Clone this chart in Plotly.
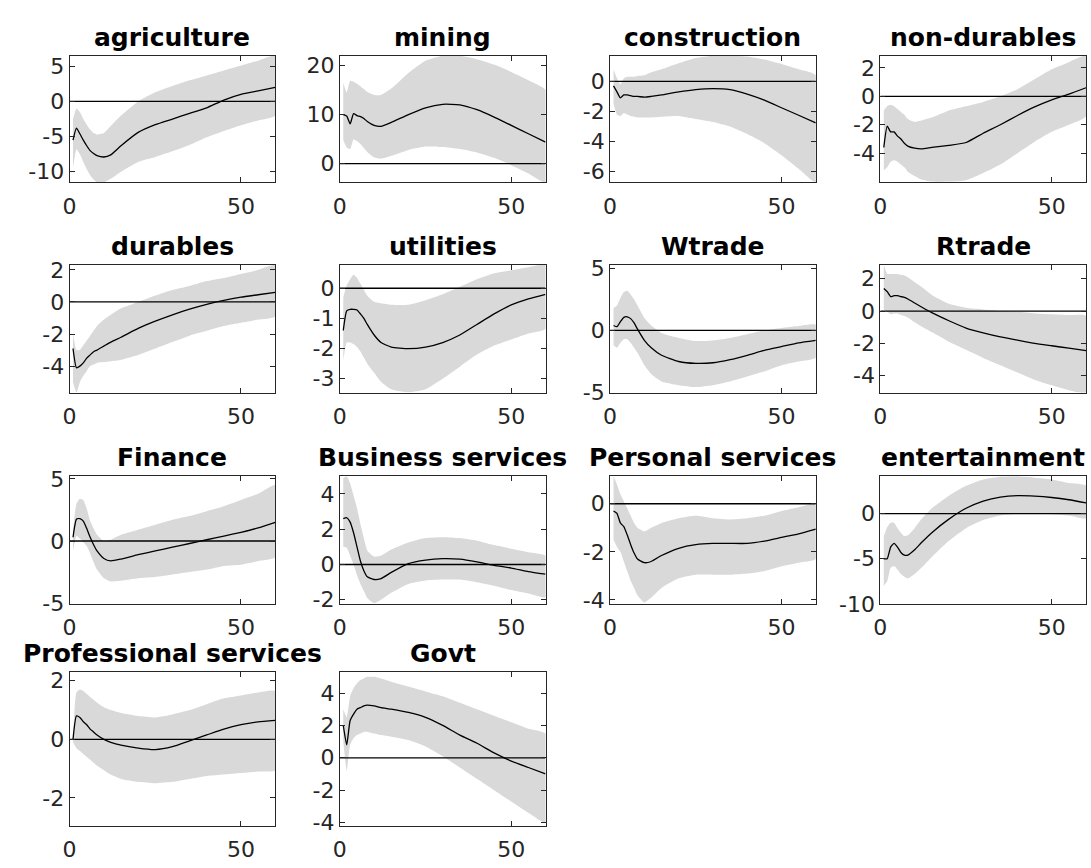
import plotly.graph_objects as go

# Impulse-response horizons (periods after the shock)
horizon = [1, 2, 3, 4, 5, 6, 7, 8, 10, 12, 15, 20, 25, 30, 35, 40, 45, 50, 55, 60]

sectors = ["agriculture", "mining", "construction", "non-durables",
           "durables", "utilities", "Wtrade", "Rtrade",
           "Finance", "Business services", "Personal services", "entertainment",
           "Professional services", "Govt"]

# point responses
agriculture_irf = [-5.5, -3.8, -4.6, -5.5, -6.3, -7.0, -7.4, -7.7, -7.9, -7.6, -6.3, -4.4, -3.3, -2.5, -1.7, -0.9, 0.2, 1.0, 1.5, 2.0]
mining_irf = [10.0, 9.7, 8.1, 10.2, 9.8, 9.6, 9.2, 8.6, 7.8, 7.6, 8.4, 10.0, 11.4, 12.1, 12.0, 11.0, 9.5, 7.8, 6.1, 4.4]
construction_irf = [-0.3, -0.7, -1.1, -0.9, -0.9, -0.95, -1.0, -1.0, -1.05, -1.0, -0.9, -0.7, -0.55, -0.48, -0.55, -0.85, -1.25, -1.75, -2.25, -2.75]
nondurables_irf = [-3.6, -2.1, -2.5, -2.5, -2.8, -3.0, -3.3, -3.5, -3.65, -3.7, -3.6, -3.45, -3.25, -2.6, -2.0, -1.35, -0.75, -0.25, 0.15, 0.6]
durables_irf = [-2.9, -4.1, -4.0, -3.8, -3.5, -3.3, -3.1, -3.0, -2.75, -2.5, -2.2, -1.65, -1.2, -0.8, -0.45, -0.15, 0.1, 0.3, 0.45, 0.6]
utilities_irf = [-1.4, -0.75, -0.7, -0.7, -0.72, -0.85, -1.0, -1.2, -1.55, -1.8, -1.95, -2.0, -1.95, -1.8, -1.55, -1.2, -0.85, -0.55, -0.35, -0.2]
wtrade_irf = [0.4, 0.3, 0.7, 1.05, 1.1, 0.95, 0.6, 0.1, -0.8, -1.4, -2.0, -2.5, -2.65, -2.6, -2.35, -2.0, -1.6, -1.3, -1.0, -0.8]
rtrade_irf = [1.4, 1.2, 0.9, 0.95, 0.95, 0.9, 0.85, 0.75, 0.5, 0.25, -0.1, -0.6, -1.05, -1.35, -1.6, -1.8, -2.0, -2.15, -2.3, -2.45]
finance_irf = [0.3, 1.75, 1.8, 1.6, 1.0, 0.3, -0.3, -0.8, -1.4, -1.6, -1.45, -1.1, -0.8, -0.5, -0.2, 0.1, 0.4, 0.7, 1.05, 1.5]
business_irf = [2.6, 2.65, 2.4, 1.8, 1.0, 0.2, -0.35, -0.7, -0.85, -0.8, -0.45, 0.05, 0.25, 0.33, 0.3, 0.15, -0.05, -0.2, -0.4, -0.55]
personal_irf = [-0.3, -0.4, -0.8, -0.95, -1.3, -1.7, -2.05, -2.3, -2.45, -2.4, -2.15, -1.85, -1.7, -1.65, -1.65, -1.65, -1.55, -1.4, -1.25, -1.05]
entertainment_irf = [-5.0, -5.0, -3.7, -3.3, -3.7, -4.3, -4.6, -4.6, -4.0, -3.2, -2.1, -0.6, 0.6, 1.4, 1.85, 2.0, 1.95, 1.8, 1.55, 1.2]
professional_irf = [0.0, 0.8, 0.75, 0.6, 0.5, 0.35, 0.25, 0.15, 0.0, -0.1, -0.2, -0.3, -0.35, -0.25, -0.05, 0.15, 0.35, 0.5, 0.6, 0.65]
govt_irf = [2.0, 0.8, 2.3, 2.7, 3.0, 3.1, 3.2, 3.25, 3.2, 3.1, 3.0, 2.8, 2.5, 2.0, 1.4, 0.9, 0.3, -0.2, -0.6, -1.0]

# upper confidence bounds
agriculture_hi = [-2.5, -1.0, -1.5, -2.5, -3.3, -4.0, -4.5, -4.7, -4.5, -3.5, -2.0, 0.0, 1.3, 2.2, 3.0, 3.7, 4.4, 5.1, 5.8, 6.5]
mining_hi = [16.5, 14.5, 16.9, 16.7, 16.3, 15.8, 15.2, 14.6, 14.0, 14.0, 15.3, 18.5, 21.0, 22.0, 22.0, 21.3, 20.2, 18.7, 17.0, 15.0]
construction_hi = [0.8, 0.2, -0.2, 0.2, 0.3, 0.3, 0.3, 0.35, 0.4, 0.6, 0.8, 1.2, 1.55, 1.7, 1.7, 1.65, 1.45, 1.15, 0.8, 0.4]
nondurables_hi = [-1.0, -0.7, -0.6, -0.7, -0.9, -1.1, -1.3, -1.6, -1.8, -1.7, -1.5, -1.0, -0.7, -0.4, 0.0, 0.5, 1.2, 1.9, 2.4, 2.85]
durables_hi = [-2.0, -3.0, -3.0, -2.7, -2.4, -2.1, -1.8, -1.5, -1.1, -0.8, -0.4, 0.0, 0.4, 0.75, 1.0, 1.3, 1.5, 1.75, 2.0, 2.3]
utilities_hi = [-0.3, 0.1, 0.3, 0.45, 0.35, 0.15, -0.05, -0.25, -0.45, -0.5, -0.55, -0.55, -0.4, -0.2, 0.05, 0.3, 0.5, 0.6, 0.7, 0.77]
wtrade_hi = [1.8, 2.0, 2.6, 3.1, 3.2, 2.9, 2.5, 2.0, 1.0, 0.4, -0.2, -0.6, -0.85, -0.8, -0.6, -0.3, 0.0, 0.2, 0.35, 0.45]
rtrade_hi = [2.85, 2.3, 2.3, 2.3, 2.3, 2.25, 2.2, 2.1, 1.8, 1.5, 1.0, 0.45, 0.2, 0.1, 0.0, -0.05, -0.15, -0.2, -0.25, -0.3]
finance_hi = [0.9, 3.0, 3.4, 3.3, 2.6, 1.6, 1.0, 0.5, 0.0, 0.1, 0.5, 0.9, 1.3, 1.7, 2.0, 2.4, 2.8, 3.3, 3.8, 4.5]
business_hi = [4.9, 5.0, 4.6, 3.9, 3.2, 2.3, 1.5, 0.8, 0.45, 0.5, 0.85, 1.25, 1.5, 1.55, 1.5, 1.35, 1.1, 0.9, 0.7, 0.5]
personal_hi = [1.14, 0.8, 0.4, 0.1, -0.2, -0.5, -0.8, -1.0, -1.15, -1.0, -0.8, -0.6, -0.5, -0.6, -0.65, -0.6, -0.5, -0.3, -0.15, 0.0]
entertainment_hi = [-2.5, -1.5, -1.0, -1.0, -1.6, -2.1, -2.5, -2.4, -1.6, -0.6, 0.6, 2.0, 3.1, 3.8, 4.1, 4.15, 4.0, 3.8, 3.4, 3.1]
professional_hi = [0.1, 1.6, 1.7, 1.65, 1.55, 1.45, 1.35, 1.25, 1.1, 1.0, 0.9, 0.8, 0.75, 0.85, 1.0, 1.2, 1.4, 1.5, 1.6, 1.65]
govt_hi = [3.0, 2.5, 3.8, 4.3, 4.6, 4.8, 4.9, 5.0, 5.0, 4.9, 4.7, 4.4, 4.1, 3.8, 3.4, 3.0, 2.6, 2.2, 1.8, 1.5]

# lower confidence bounds
agriculture_lo = [-9.5, -6.8, -7.5, -8.6, -9.6, -10.5, -11.1, -11.5, -11.5, -11.0, -10.0, -8.6, -7.9, -7.1, -6.2, -5.1, -4.2, -3.4, -2.7, -2.0]
mining_lo = [4.8, 3.3, 3.0, 5.0, 4.6, 4.0, 3.2, 2.4, 1.3, 1.0, 1.6, 2.8, 3.5, 3.4, 3.0, 2.3, 1.2, -0.3, -2.0, -3.8]
construction_lo = [-1.5, -2.2, -2.3, -2.1, -2.2, -2.3, -2.35, -2.4, -2.4, -2.4, -2.35, -2.3, -2.5, -2.7, -3.0, -3.5, -4.1, -4.9, -5.8, -6.7]
nondurables_lo = [-5.2, -5.0, -4.6, -4.5, -4.6, -4.8, -5.0, -5.3, -5.6, -5.85, -6.0, -6.0, -5.9, -5.4, -4.8, -4.0, -3.2, -2.5, -2.0, -1.4]
durables_lo = [-5.0, -5.65, -5.0, -4.6, -4.3, -4.0, -3.9, -3.8, -3.75, -3.7, -3.6, -3.3, -2.9, -2.5, -2.1, -1.8, -1.5, -1.3, -1.1, -0.9]
utilities_lo = [-2.4, -1.8, -1.8, -1.85, -1.95, -2.1, -2.3, -2.5, -2.8, -3.1, -3.35, -3.45, -3.35, -3.0, -2.6, -2.2, -1.9, -1.7, -1.5, -1.35]
wtrade_lo = [-1.2, -1.4, -1.0, -0.7, -0.7, -1.0, -1.4, -1.8, -2.8, -3.5, -4.1, -4.4, -4.55, -4.4, -4.1, -3.7, -3.3, -2.8, -2.5, -2.2]
rtrade_lo = [0.1, -0.05, -0.2, -0.15, -0.15, -0.25, -0.3, -0.4, -0.7, -0.95, -1.3, -1.9, -2.4, -2.9, -3.35, -3.8, -4.25, -4.6, -4.9, -5.05]
finance_lo = [-0.8, 0.4, 0.2, -0.1, -0.4, -1.0, -1.7, -2.3, -3.0, -3.25, -3.2, -3.0, -2.9, -2.7, -2.5, -2.3, -2.0, -1.9, -1.6, -1.3]
business_lo = [1.0, 0.95, 0.5, 0.0, -0.6, -1.1, -1.5, -1.9, -2.2, -2.0, -1.6, -1.1, -0.9, -0.85, -0.85, -1.0, -1.2, -1.45, -1.65, -1.85]
personal_lo = [-1.5, -1.8, -2.0, -2.4, -2.8, -3.2, -3.5, -3.8, -4.1, -3.9, -3.5, -3.1, -2.95, -2.95, -2.95, -2.9, -2.8, -2.6, -2.45, -2.3]
entertainment_lo = [-8.0, -7.5, -6.0, -5.8, -6.2, -6.7, -7.0, -7.2, -6.7, -6.0, -4.8, -3.0, -1.6, -0.7, -0.2, 0.0, 0.0, -0.05, -0.2, -0.5]
professional_lo = [-0.1, -0.3, -0.4, -0.5, -0.6, -0.7, -0.8, -0.9, -1.05, -1.2, -1.35, -1.45, -1.5, -1.45, -1.35, -1.25, -1.2, -1.15, -1.1, -1.05]
govt_lo = [1.0, -0.8, 0.8, 1.2, 1.4, 1.5, 1.6, 1.6, 1.5, 1.4, 1.3, 1.1, 0.7, 0.1, -0.6, -1.3, -2.0, -2.7, -3.4, -4.0]

irfs = [agriculture_irf, mining_irf, construction_irf, nondurables_irf,
        durables_irf, utilities_irf, wtrade_irf, rtrade_irf,
        finance_irf, business_irf, personal_irf, entertainment_irf,
        professional_irf, govt_irf]
uppers = [agriculture_hi, mining_hi, construction_hi, nondurables_hi,
          durables_hi, utilities_hi, wtrade_hi, rtrade_hi,
          finance_hi, business_hi, personal_hi, entertainment_hi,
          professional_hi, govt_hi]
lowers = [agriculture_lo, mining_lo, construction_lo, nondurables_lo,
          durables_lo, utilities_lo, wtrade_lo, rtrade_lo,
          finance_lo, business_lo, personal_lo, entertainment_lo,
          professional_lo, govt_lo]

# y-axis limits and ticks of each panel
y_limits = [(-11.5, 6.5), (-3.8, 22.0), (-6.7, 1.7), (-6.05, 2.85),
            (-5.65, 2.3), (-3.46, 0.77), (-5.0, 5.26), (-5.05, 2.85),
            (-5.05, 5.2), (-2.23, 5.0), (-4.16, 1.14), (-10.0, 4.15),
            (-2.95, 2.3), (-4.2, 5.3)]
y_ticks = [[-10, -5, 0, 5], [0, 10, 20], [-6, -4, -2, 0], [-4, -2, 0, 2],
           [-4, -2, 0, 2], [-3, -2, -1, 0], [-5, 0, 5], [-4, -2, 0, 2],
           [-5, 0, 5], [-2, 0, 2, 4], [-4, -2, 0], [-10, -5, 0],
           [-2, 0, 2], [-4, -2, 0, 2, 4]]
x_ticks = [0, 50]

# grid geometry in pixels
W, H = 1091, 868
col_left = [63, 335, 607, 879]
col_width = 207
row_top = [47, 262, 479, 680]
row_bottom = [177, 393, 610, 838]

ink = "#262626"
band = "#d9d9d9"
tick_font = dict(family="DejaVu Sans", size=22, color=ink)

fig = go.Figure()
layout = dict(
    width=W, height=H,
    margin=dict(l=0, r=0, t=0, b=0),
    paper_bgcolor="white", plot_bgcolor="white",
    showlegend=False,
    annotations=[],
)

for k, name in enumerate(sectors):
    r, c = divmod(k, 4)
    n = k + 1
    xref = "x" if n == 1 else f"x{n}"
    yref = "y" if n == 1 else f"y{n}"
    hi, lo, irf = uppers[k], lowers[k], irfs[k]

    fig.add_trace(go.Scatter(
        x=horizon + horizon[::-1], y=hi + lo[::-1],
        mode="lines", fill="toself", fillcolor=band,
        line=dict(width=0, color=band, shape="spline", smoothing=0.5),
        xaxis=xref, yaxis=yref, hoverinfo="skip"))
    fig.add_trace(go.Scatter(
        x=[0, 60], y=[0, 0], mode="lines",
        line=dict(color="black", width=1.3),
        xaxis=xref, yaxis=yref, hoverinfo="skip"))
    fig.add_trace(go.Scatter(
        x=horizon, y=irf, mode="lines",
        line=dict(color="black", width=1.3, shape="spline", smoothing=0.5),
        xaxis=xref, yaxis=yref))

    left, right = col_left[c], col_left[c] + col_width
    top, bottom = row_top[r], row_bottom[r]
    axis_common = dict(
        showline=True, linecolor=ink, linewidth=1, mirror="allticks",
        ticks="inside", ticklen=5, tickcolor=ink, tickwidth=1,
        showgrid=False, zeroline=False, tickfont=tick_font,
    )
    layout["xaxis" if n == 1 else f"xaxis{n}"] = dict(
        domain=[left / W, right / W], range=[0, 60], anchor=yref,
        tickvals=x_ticks, ticktext=[str(v) for v in x_ticks],
        ticklabelstandoff=4, **axis_common)
    layout["yaxis" if n == 1 else f"yaxis{n}"] = dict(
        domain=[1 - bottom / H, 1 - top / H], range=list(y_limits[k]), anchor=xref,
        tickvals=y_ticks[k], ticktext=[str(v) for v in y_ticks[k]],
        **axis_common)
    layout["annotations"].append(dict(
        text=f"<b>{name}</b>", x=(left + right) / 2 / W, y=1 - top / H,
        xref="paper", yref="paper", xanchor="center", yanchor="bottom",
        yshift=2, showarrow=False,
        font=dict(family="DejaVu Sans", size=25, color="black")))

fig.update_layout(**layout)
fig.write_html("out.html")
